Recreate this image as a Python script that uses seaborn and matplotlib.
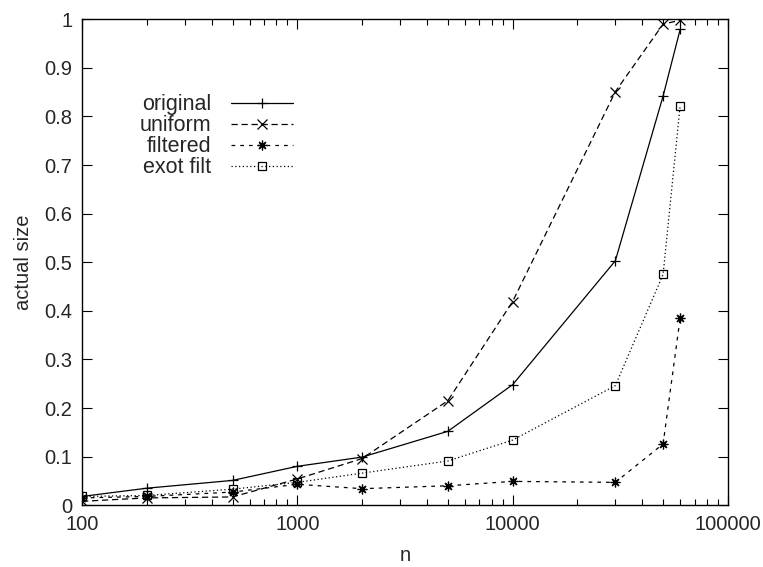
import numpy as np
import pandas as pd
import matplotlib
matplotlib.use("Agg")
import matplotlib.pyplot as plt
import seaborn as sns
import matplotlib.ticker as ticker

# data
n = [100, 200, 500, 1000, 2000, 5000, 10000, 30000, 50000, 60000]
original = [0.018, 0.035, 0.051, 0.080, 0.099, 0.152, 0.248, 0.503, 0.842, 0.979]
uniform = [0.008, 0.015, 0.017, 0.054, 0.096, 0.215, 0.419, 0.851, 0.990, 0.998]
filtered = [0.015, 0.018, 0.027, 0.043, 0.034, 0.040, 0.049, 0.047, 0.126, 0.385]
exot_filt = [0.018, 0.020, 0.033, 0.047, 0.066, 0.091, 0.134, 0.246, 0.475, 0.822]
series = ["original", "uniform", "filtered", "exot filt"]

data = pd.DataFrame({
    "n": n * 4,
    "actual size": original + uniform + filtered + exot_filt,
    "method": [s for s in series for _ in n],
})

sns.set_style("ticks")
plt.rcParams["font.family"] = ["Liberation Sans", "DejaVu Sans"]
plt.rcParams["font.size"] = 14.5
plt.rcParams["xtick.direction"] = "in"
plt.rcParams["ytick.direction"] = "in"

DASHES = {"original": "-", "uniform": (0, (5, 3)), "filtered": (0, (3, 4)), "exot filt": (0, (1, 2))}
MARKERS = {"original": "+", "uniform": "x", "filtered": (8, 2, 0), "exot filt": "s"}
MSIZE = {"original": 7.5, "uniform": 6.5, "filtered": 7, "exot filt": 6}

fig, ax = plt.subplots(figsize=(7.63, 5.67), dpi=100)
for s in series:
    sub = data[data["method"] == s]
    sns.lineplot(data=sub, x="n", y="actual size", color="k", linewidth=0.9,
                 linestyle=DASHES[s], marker=MARKERS[s], markersize=MSIZE[s],
                 markeredgewidth=0.9, markerfacecolor="none",
                 markeredgecolor="k", ax=ax, label=s, legend=False)

ax.set_xscale("log")
ax.set_xlim(100, 100000)
ax.set_ylim(0, 1)
ax.yaxis.set_major_locator(ticker.MultipleLocator(0.1))
ax.yaxis.set_major_formatter(ticker.FuncFormatter(lambda v, p: f"{v:g}"))
ax.xaxis.set_major_formatter(ticker.FuncFormatter(lambda v, p: f"{int(v)}"))
ax.xaxis.set_minor_locator(ticker.LogLocator(base=10, subs=np.arange(2, 10)))
ax.xaxis.set_minor_formatter(ticker.NullFormatter())
ax.tick_params(which="both", top=True, right=True, color="k")
ax.tick_params(which="major", length=7, width=0.8, pad=7)
ax.tick_params(which="minor", length=4, width=0.8)
for sp in ax.spines.values():
    sp.set_color("k")
    sp.set_linewidth(1.0)

ax.set_xlabel("n", labelpad=9)
ax.set_ylabel("actual size", labelpad=8)

# gnuplot-style key: label left of the sample
handles = ax.lines[:4]
leg = ax.legend(handles, series, markerfirst=False, frameon=False,
                loc="upper right", bbox_to_anchor=(0.34, 0.863),
                handlelength=2.9, handletextpad=0.9, labelspacing=0.0,
                borderaxespad=0, fontsize=15.5)

plt.subplots_adjust(left=0.1075, right=0.954, top=0.966, bottom=0.109)
plt.savefig("out.png", dpi=100)
